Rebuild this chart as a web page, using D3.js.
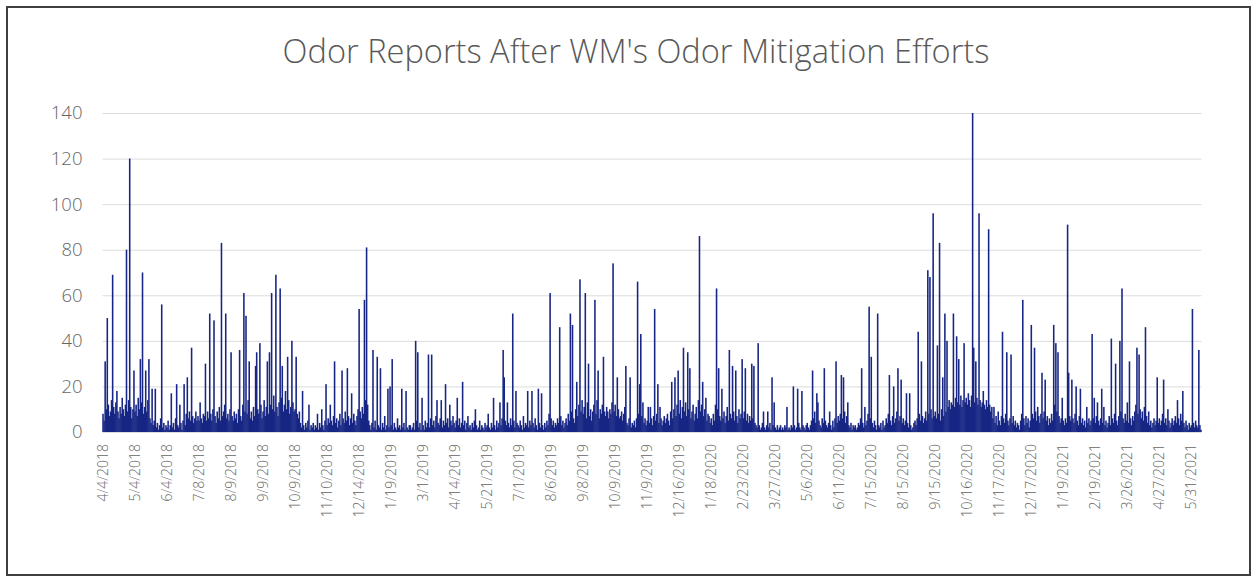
<!DOCTYPE html>
<html>
<head>
<meta charset="utf-8">
<script src="https://cdn.jsdelivr.net/npm/d3@7"></script>
<style>
  body { margin: 0; background: #fff; }
  #chart { width: 1256px; height: 580px; }
  text { font-family: "Open Sans", "DejaVu Sans", sans-serif; }
</style>
</head>
<body>
<div id="chart"></div>
<script>
var title = "Odor Reports After WM's Odor Mitigation Efforts";

// one label every 30 categories (Excel category axis, only report days listed)
var labelEvery = 30;
var tickLabels = [
  "4/4/2018", "5/4/2018", "6/4/2018", "7/8/2018", "8/9/2018", "9/9/2018",
  "10/9/2018", "11/10/2018", "12/14/2018", "1/19/2019", "3/1/2019", "4/14/2019",
  "5/21/2019", "7/1/2019", "8/6/2019", "9/8/2019", "10/9/2019", "11/9/2019",
  "12/16/2019", "1/18/2020", "2/23/2020", "3/27/2020", "5/6/2020", "6/11/2020",
  "7/15/2020", "8/15/2020", "9/15/2020", "10/16/2020", "11/17/2020", "12/17/2020",
  "1/19/2021", "2/19/2021", "3/26/2021", "4/27/2021", "5/31/2021"
];

var yTicks = [0, 20, 40, 60, 80, 100, 120, 140];

// daily report counts, one row per label interval
var reports = [].concat(
  [8,5,31,10,50,12,7,9,14,69,11,8,13,18,9,6,11,8,15,10,7,12,80,9,14,120,11,6,10,27],
  [9,12,7,15,10,32,13,70,8,11,27,9,14,32,6,4,19,3,5,19,2,4,1,3,6,56,2,4,1,3],
  [2,5,1,3,17,2,4,1,6,21,3,2,12,4,1,5,21,3,8,24,6,9,5,37,7,4,6,9,5,7],
  [5,13,6,4,8,7,30,5,9,6,52,8,5,10,49,7,4,9,6,11,5,83,7,9,12,52,6,8,5,10],
  [35,7,5,9,6,8,4,10,36,7,5,12,61,9,51,8,14,31,6,9,5,11,7,29,35,10,8,39,12,6],
  [9,14,7,11,31,8,35,12,61,10,16,9,69,11,7,13,63,15,29,9,12,18,10,33,14,8,11,40,13,9],
  [10,33,8,6,9,4,2,18,3,1,4,2,5,12,1,3,2,4,1,3,2,8,1,4,2,10,3,1,5,21],
  [3,6,4,12,5,3,7,31,4,6,2,5,8,3,27,6,4,9,5,28,7,3,6,17,4,8,5,3,7,10],
  [54,9,6,11,8,58,14,81,12,5,3,1,4,36,2,5,1,33,3,2,28,1,4,2,7,1,3,19,2,20],
  [3,32,1,4,2,1,6,2,3,1,19,2,4,1,18,2,1,3,3,1,2,4,1,40,5,35,2,4,1,15],
  [3,1,5,2,4,34,2,6,34,3,5,2,7,14,4,3,6,14,2,5,3,21,4,6,2,12,5,3,7,4],
  [2,5,15,3,6,2,4,22,3,5,1,4,7,2,3,1,4,2,5,10,3,1,2,5,1,3,2,1,4,2],
  [3,8,2,1,4,2,15,3,1,5,2,4,13,3,6,36,24,5,3,13,4,2,6,3,52,5,2,18,4,3],
  [2,5,3,1,7,2,4,3,18,2,5,3,18,4,2,6,3,1,19,4,2,17,3,1,4,2,5,3,8,61],
  [6,3,5,2,4,3,6,4,46,7,3,5,2,4,6,3,8,5,52,9,47,6,4,10,22,7,12,67,9,14],
  [8,11,61,6,13,30,7,10,5,9,12,58,8,14,27,6,10,8,12,33,9,7,11,9,6,10,8,13,74,9],
  [12,7,24,10,6,7,9,5,8,11,29,4,3,6,24,2,4,3,5,2,6,66,8,21,43,7,13,4,6,3],
  [5,11,4,11,6,3,7,54,5,8,21,4,11,6,3,5,7,4,6,8,5,3,9,22,6,10,24,7,12,27],
  [8,14,6,11,37,9,13,7,35,10,28,6,9,12,5,8,11,6,14,86,9,12,22,7,10,15,5,8,7,4],
  [6,3,8,5,12,63,10,28,7,5,19,6,9,4,7,11,5,36,8,6,29,9,5,27,7,4,10,6,8,32],
  [6,9,28,5,8,4,7,5,30,6,29,4,3,2,39,3,1,2,4,9,2,1,3,9,2,4,1,24,3,13],
  [2,1,3,1,2,3,1,2,1,3,2,11,1,2,1,3,2,20,3,1,2,19,4,2,1,18,3,2,1,3],
  [4,2,1,3,5,27,6,9,4,17,13,5,3,2,6,4,28,5,3,2,4,9,3,1,5,2,6,31,4,7],
  [5,8,25,6,24,9,4,7,13,3,2,4,1,3,2,3,1,2,4,3,6,28,4,2,11,3,5,8,55,6],
  [33,4,2,5,3,1,52,3,2,4,1,5,2,3,6,4,8,25,5,3,7,20,4,6,9,28,5,7,23,4],
  [6,3,5,17,4,2,17,3,1,2,4,5,3,6,44,8,5,31,7,4,6,9,5,71,8,68,10,6,96,7],
  [9,6,38,8,83,5,10,24,7,52,9,40,11,14,10,13,12,52,11,15,42,13,32,12,16,11,14,39,13,15],
  [12,17,14,11,16,140,37,13,31,15,12,96,14,11,13,18,12,10,14,11,89,12,9,11,6,11,4,7,3,9],
  [5,3,7,44,6,4,8,35,5,3,6,34,4,7,3,5,2,4,3,1,5,8,58,6,3,7,4,6,2,5],
  [47,8,6,37,9,5,11,7,4,8,26,6,9,23,5,7,3,6,4,8,5,47,12,39,9,35,7,4,6,15],
  [5,3,6,4,91,26,7,5,23,6,4,8,20,5,3,7,19,4,6,3,5,2,11,4,6,3,5,43,6,15],
  [4,7,13,5,3,6,19,4,11,3,5,2,4,7,3,41,6,4,8,30,5,3,7,40,9,63,6,4,8,5],
  [13,4,31,6,3,7,5,9,12,37,8,34,10,6,9,5,11,46,7,4,9,3,5,2,4,6,3,5,24,4],
  [6,3,5,8,23,4,6,3,10,5,2,4,6,3,5,7,4,14,6,3,8,5,18,4,2,5,3,1,4,2],
  [3,54,4,2,5,3,2,36,3,1]
);

var W = 1256, H = 580;
var plot = { left: 102.5, right: 1201.5, top: 113, bottom: 432 };
var textColor = "#666666";

var svg = d3.select("#chart").append("svg")
    .attr("width", W)
    .attr("height", H);

// chart frame
svg.append("rect")
    .attr("x", 7).attr("y", 7)
    .attr("width", 1243).attr("height", 568)
    .attr("fill", "#fff")
    .attr("stroke", "#404040")
    .attr("stroke-width", 2);

var x = d3.scaleBand()
    .domain(d3.range(reports.length))
    .range([plot.left, plot.right])
    .padding(0);

var y = d3.scaleLinear()
    .domain([0, 140])
    .range([plot.bottom, plot.top]);

// y axis with gridlines
var yAxis = svg.append("g")
    .attr("transform", "translate(" + plot.left + ",0)")
    .call(d3.axisLeft(y).tickValues(yTicks).tickSize(-(plot.right - plot.left)).tickPadding(20));
yAxis.select(".domain").remove();
yAxis.selectAll(".tick line").attr("stroke", "#dcdcdc");
yAxis.selectAll(".tick text")
    .attr("fill", textColor)
    .style("font-size", "18.5px")
    .style("font-weight", 300);

// bars, a touch wider than the band so thin spikes read like the scan
svg.append("g").selectAll("rect")
    .data(reports)
    .join("rect")
    .attr("x", function (d, i) { return x(i) - 0.25; })
    .attr("y", function (d) { return y(d); })
    .attr("width", x.bandwidth() + 0.5)
    .attr("height", function (d) { return y(0) - y(d); })
    .attr("fill", "#172684");

// x axis, rotated date labels
var xAxis = svg.append("g")
    .attr("transform", "translate(0," + plot.bottom + ")")
    .call(d3.axisBottom(x)
        .tickValues(d3.range(0, reports.length, labelEvery))
        .tickFormat(function (d, i) { return tickLabels[i]; })
        .tickSize(0));
xAxis.select(".domain").remove();
xAxis.selectAll(".tick text")
    .attr("transform", "rotate(-90)")
    .attr("x", -12)
    .attr("y", 0)
    .attr("dy", "0.35em")
    .attr("text-anchor", "end")
    .attr("fill", textColor)
    .style("font-size", "14px")
    .style("font-weight", 300);

// title, sized to the reference width
var t = svg.append("text")
    .attr("x", 636)
    .attr("y", 63)
    .attr("text-anchor", "middle")
    .attr("fill", "#595959")
    .style("font-size", "26px")
    .style("font-weight", 300)
    .text(title);
var len = t.node().getComputedTextLength();
t.style("font-size", (26 * 707 / len).toFixed(2) + "px");
</script>
</body>
</html>
